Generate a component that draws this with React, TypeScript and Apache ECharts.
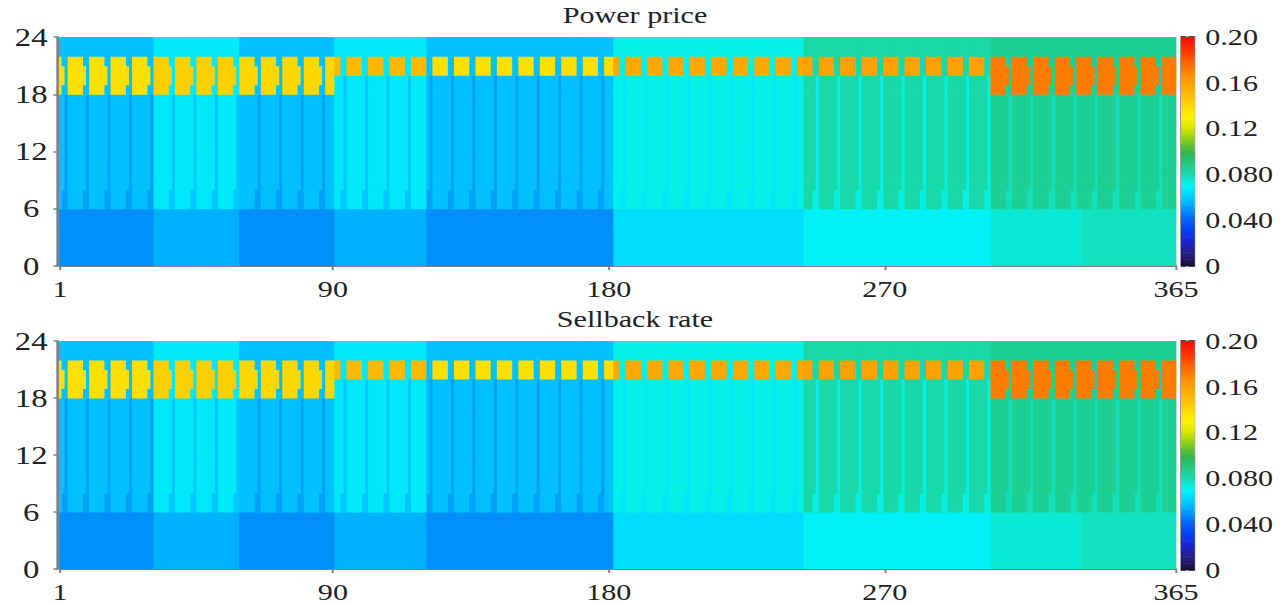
import React, { useEffect, useRef } from "react";
import * as echarts from "echarts";

// ---------- data ----------
const monthDays = [31, 28, 31, 30, 31, 30, 31, 31, 30, 31, 30, 31];
const jan1Weekday = 4; // 0 = Monday ... 4 = Friday (year with 365 days)
const monthSeason = ["winter", "winter", "winter", "summer", "summer", "summer", "summer", "summer", "summer", "summer", "winter", "winter"];
const offPeakHours = [0, 1, 2, 3, 4, 5];
const lateHours = [22, 23];
const winterPeakHours = [18, 19, 20, 21];
const winterSaturdayPeakHours = [19, 20];
const summerPeakHours = [20, 21];
const weekendMorningHours = [6, 7];

// Power price (per month)
const priceOffPeak = [0.049, 0.055, 0.049, 0.055, 0.049, 0.049, 0.064, 0.064, 0.069, 0.069, 0.075, 0.078];
const priceMid = [0.058, 0.067, 0.058, 0.067, 0.058, 0.058, 0.072, 0.072, 0.082, 0.082, 0.086, 0.086];
const priceMidWeekend = [0.052, 0.059, 0.052, 0.059, 0.052, 0.052, 0.067, 0.067, 0.073, 0.073, 0.079, 0.079];
const pricePeak = [0.137, 0.143, 0.14, 0.152, 0.137, 0.137, 0.158, 0.158, 0.16, 0.16, 0.172, 0.172];

// Sellback rate (per month)
const sellOffPeak = [0.049, 0.055, 0.049, 0.055, 0.049, 0.049, 0.064, 0.064, 0.069, 0.069, 0.075, 0.078];
const sellMid = [0.058, 0.067, 0.058, 0.067, 0.058, 0.058, 0.072, 0.072, 0.082, 0.082, 0.086, 0.086];
const sellMidWeekend = [0.052, 0.059, 0.052, 0.059, 0.052, 0.052, 0.067, 0.067, 0.073, 0.073, 0.079, 0.079];
const sellPeak = [0.137, 0.143, 0.14, 0.152, 0.137, 0.137, 0.158, 0.158, 0.16, 0.16, 0.172, 0.172];

const xTickValues = [1, 90, 180, 270, 365];
const colorbarTickLabels = ["0", "0.040", "0.080", "0.12", "0.16", "0.20"];
const titles = ["Power price", "Sellback rate"];
const colorbarSteps = 100;

const colormap = [
  "#120a2e", "#2a1f78", "#1a22c4", "#0a38f2", "#0a5cff", "#0096f8", "#00ccff",
  "#00f6f6", "#16dcb2", "#22c882", "#34b44a", "#84c822", "#d4e400", "#fff200",
  "#ffd800", "#ffbe00", "#ffa200", "#ff8400", "#ff5c00", "#ff3000", "#ff0a0a",
];

// ---------- table builder ----------
function buildTable(off: number[], mid: number[], midWe: number[], peak: number[]) {
  const out: number[][] = [];
  let day = 1;
  for (let m = 0; m < 12; m++) {
    for (let k = 0; k < monthDays[m]; k++, day++) {
      const dow = (day - 1 + jan1Weekday) % 7;
      const winter = monthSeason[m] === "winter";
      const window = winter ? winterPeakHours : summerPeakHours;
      for (let h = 0; h < 24; h++) {
        let v: number;
        if (offPeakHours.includes(h)) v = off[m];
        else if (lateHours.includes(h)) v = mid[m];
        else if (window.includes(h)) {
          const isPeak = dow <= 4 || (winter && dow === 5 && winterSaturdayPeakHours.includes(h));
          v = isPeak ? peak[m] : mid[m];
        } else if (dow === 6 || (dow === 5 && weekendMorningHours.includes(h))) v = midWe[m];
        else v = mid[m];
        out.push([day, h, v]);
      }
    }
  }
  return out;
}

// ---------- layout (chart is drawn narrower then stretched horizontally like the source figure) ----------
const SCALE = 1.31;
const W = Math.round(1280 / SCALE);
const FONT = '"Liberation Serif", "Times New Roman", serif';
const TXT = "#222";
const AXIS = "#808080";
const gridLeft = 60 / SCALE;
const gridWidth = 1116 / SCALE;
const cbLeft = 1181 / SCALE;
const cbWidth = 10.5;
const tops = [37, 341];
const plotH = 229;

const renderCell = (params: any, api: any) => {
  const d = api.value(0);
  const h = api.value(1);
  const a = api.coord([d - 0.5, h + 1]);
  const b = api.coord([d + 0.5, h]);
  return {
    type: "rect",
    shape: { x: a[0], y: a[1], width: b[0] - a[0] + 0.9, height: b[1] - a[1] + 0.6 },
    style: { fill: api.visual("color") },
  };
};

const renderBar = (params: any, api: any) => {
  const v = api.value(1);
  const half = 0.1 / colorbarSteps;
  const a = api.coord([0, v + half]);
  const b = api.coord([1, v - half]);
  return {
    type: "rect",
    shape: { x: a[0], y: a[1], width: b[0] - a[0], height: b[1] - a[1] + 0.6 },
    style: { fill: api.visual("color") },
  };
};

export default function App() {
  const ref = useRef<HTMLDivElement>(null);
  useEffect(() => {
    const chart = echarts.init(ref.current!, null, { renderer: "svg" });
    const tables = [
      buildTable(priceOffPeak, priceMid, priceMidWeekend, pricePeak),
      buildTable(sellOffPeak, sellMid, sellMidWeekend, sellPeak),
    ];
    const barData: number[][] = [];
    for (let i = 0; i < colorbarSteps; i++) {
      const v = ((i + 0.5) * 0.2) / colorbarSteps;
      barData.push([0.5, v, v]);
    }

    const grids: any[] = [];
    const xAxes: any[] = [];
    const yAxes: any[] = [];
    const series: any[] = [];
    const titleOpts: any[] = [];

    tops.forEach((top, i) => {
      grids.push({ left: gridLeft, top, width: gridWidth, height: plotH });
      titleOpts.push({
        text: titles[i],
        left: 635 / SCALE,
        top: top - 33,
        textAlign: "center",
        padding: 0,
        textStyle: { fontFamily: FONT, fontSize: 23, fontWeight: "normal", color: TXT },
      });
    });
    tops.forEach((top) => {
      grids.push({ left: cbLeft, top, width: cbWidth, height: plotH, show: true, borderColor: "#999", borderWidth: 0.8, backgroundColor: "transparent" });
    });

    // heatmap axes
    [0, 1].forEach((g) => {
      xAxes.push({
        type: "value", gridIndex: g, min: 1, max: 365, position: "bottom", offset: 4,
        axisLine: { show: true, lineStyle: { color: AXIS, width: 2 } },
        axisTick: { show: true, customValues: xTickValues, length: 4, lineStyle: { color: AXIS, width: 1.5 } },
        axisLabel: { customValues: xTickValues, fontFamily: FONT, fontSize: 23, color: TXT, margin: 8 },
        splitLine: { show: false },
      });
      yAxes.push({
        type: "value", gridIndex: g, min: 0, max: 24, interval: 6, position: "left", offset: 2,
        axisLine: { show: true, lineStyle: { color: AXIS, width: 2 } },
        axisTick: { show: true, length: 3, lineStyle: { color: AXIS, width: 1.5 } },
        axisLabel: { fontFamily: FONT, fontSize: 25, color: TXT, align: "center", margin: 20 },
        splitLine: { show: false },
      });
    });
    // colorbar axes
    [2, 3].forEach((g) => {
      xAxes.push({ type: "value", gridIndex: g, min: 0, max: 1, show: false });
      yAxes.push({
        type: "value", gridIndex: g, min: 0, max: 0.2, interval: 0.04, position: "right",
        axisLine: { show: true, lineStyle: { color: "#888", width: 1 } },
        axisTick: { show: true, length: 4, lineStyle: { color: "#222", width: 1.5 } },
        axisLabel: {
          fontFamily: FONT, fontSize: 23, color: TXT, margin: 8,
          formatter: (v: number) => colorbarTickLabels[Math.round(v / 0.04)],
        },
        splitLine: { show: false },
      });
    });
    [2, 3].forEach((g) => {
      yAxes.push({
        type: "value", gridIndex: g, min: 0, max: 0.2, interval: 0.04, position: "right",
        axisLine: { show: false },
        axisTick: { show: true, inside: true, length: 5, lineStyle: { color: "#222", width: 1.5 } },
        axisLabel: { show: false },
        splitLine: { show: false },
      });
    });

    [0, 1].forEach((g) => {
      series.push({
        type: "custom", xAxisIndex: g, yAxisIndex: g, data: tables[g], renderItem: renderCell,
        clip: true, silent: true, progressive: 0, encode: { x: 0, y: 1 },
      });
    });
    [2, 3].forEach((g) => {
      series.push({
        type: "custom", xAxisIndex: g, yAxisIndex: g, data: barData, renderItem: renderBar,
        clip: true, silent: true, progressive: 0, encode: { x: 0, y: 1 },
      });
    });

    chart.setOption({
      animation: false,
      backgroundColor: "#fff",
      textStyle: { fontFamily: FONT },
      title: titleOpts,
      grid: grids,
      xAxis: xAxes,
      yAxis: yAxes,
      visualMap: {
        type: "continuous", show: false, min: 0, max: 0.2, dimension: 2,
        seriesIndex: [0, 1, 2, 3], inRange: { color: colormap },
      },
      series,
    });
    return () => chart.dispose();
  }, []);

  return (
    <div style={{ position: "fixed", left: 0, top: 0, width: 1280, height: 604, overflow: "hidden", background: "#fff" }}>
      <div
        ref={ref}
        style={{ width: W, height: 604, transform: `scaleX(${SCALE})`, transformOrigin: "0 0" }}
      />
    </div>
  );
}
